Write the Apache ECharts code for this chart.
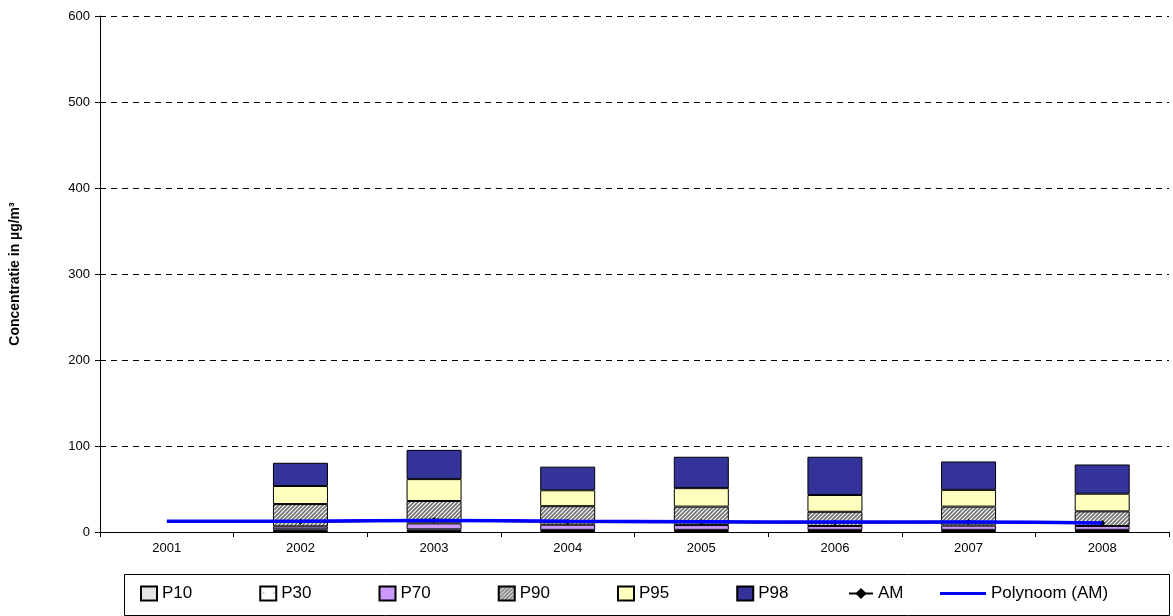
<!DOCTYPE html>
<html>
<head>
<meta charset="utf-8">
<title>Concentratie percentielen</title>
<script src="https://cdn.jsdelivr.net/npm/echarts@6/dist/echarts.min.js"></script>
<style>
  html, body { margin: 0; padding: 0; background: #fff; }
  #chart { width: 1173px; height: 616px; }
</style>
</head>
<body>
<div id="chart"></div>
<script>
const years = ['2001', '2002', '2003', '2004', '2005', '2006', '2007', '2008']

// percentielen (waarde van de bovenkant van elk segment)
const p10 = [null, 1, 1, 1, 1, 1, 1, 1]
const p30 = [null, 3, 3, 2.5, 2.5, 2.5, 2.5, 2.5]
const p70 = [null, 6.5, 10, 8.5, 8, 7, 7.5, 7]
const p90 = [null, 32.5, 36, 30, 29.5, 23.5, 29.5, 24]
const p95 = [null, 53.5, 61.5, 48.5, 51, 43, 49, 44.5]
const p98 = [null, 80.5, 95.5, 76, 87.5, 87.5, 82, 78.5]
const am = [null, 12, 14, 12, 11.5, 11, 11.5, 10.5]
const polynoom = [12.5, 12.5, 13.5, 12.5, 12, 11.5, 11.5, 10.5]

const yTicks = [0, 100, 200, 300, 400, 500, 600]

const font = 'Liberation Sans, Arial, sans-serif'

// segmenthoogte = verschil met het vorige percentiel
const diff = (top, bottom) => top.map((v, i) => (v == null ? null : +(v - (bottom ? bottom[i] : 0)).toFixed(2)))

const makeHatch = () => {
  const c = document.createElement('canvas')
  c.width = 8
  c.height = 8
  const ctx = c.getContext('2d')
  ctx.fillStyle = '#ffffff'
  ctx.fillRect(0, 0, 8, 8)
  ctx.strokeStyle = '#707070'
  ctx.lineWidth = 1.6
  for (let k = -8; k <= 16; k += 4) {
    ctx.beginPath()
    ctx.moveTo(k - 2, 10)
    ctx.lineTo(k + 10, -2)
    ctx.stroke()
  }
  return c
}

const makeDots = () => {
  const c = document.createElement('canvas')
  c.width = 10
  c.height = 10
  const ctx = c.getContext('2d')
  ctx.fillStyle = '#ffffff'
  ctx.fillRect(0, 0, 10, 10)
  ctx.fillStyle = '#555555'
  ctx.fillRect(3, 6, 1, 1)
  return c
}

const barStyle = color => ({ color: color, borderColor: '#000', borderWidth: 1 })

const chart = echarts.init(document.getElementById('chart'), null, { renderer: 'canvas' })

const barSeries = [
  { name: 'P10', data: diff(p10), itemStyle: barStyle('#e3e3e3') },
  { name: 'P30', data: diff(p30, p10), itemStyle: barStyle({ image: makeDots(), repeat: 'repeat' }) },
  { name: 'P70', data: diff(p70, p30), itemStyle: barStyle('#cc99ff') },
  { name: 'P90', data: diff(p90, p70), itemStyle: barStyle({ image: makeHatch(), repeat: 'repeat' }) },
  { name: 'P95', data: diff(p95, p90), itemStyle: barStyle('#ffffc0') },
  { name: 'P98', data: diff(p98, p95), itemStyle: barStyle('#333399') }
].map(s => Object.assign({ type: 'bar', stack: 'p', barWidth: 55, z: 2 }, s))

const legendText = { color: '#000', fontSize: 17, fontFamily: font }

const option = {
  animation: false,
  backgroundColor: '#fff',
  textStyle: { fontFamily: font },
  grid: { left: 99, right: 4, top: 16, bottom: 84 },
  xAxis: {
    type: 'category',
    data: years,
    axisLine: { lineStyle: { color: '#000', width: 1 } },
    axisTick: { show: true, length: 5, lineStyle: { color: '#000' } },
    axisLabel: { color: '#000', fontSize: 13, margin: 10, fontFamily: font }
  },
  yAxis: {
    type: 'value',
    min: yTicks[0],
    max: yTicks[yTicks.length - 1],
    interval: 100,
    name: 'Concentratie in µg/m³',
    nameLocation: 'middle',
    nameRotate: 90,
    nameGap: 78,
    nameTextStyle: { color: '#000', fontSize: 14, fontWeight: 'bold', fontFamily: font },
    axisLine: { show: true, lineStyle: { color: '#000', width: 1 } },
    axisTick: { show: true, length: 5, lineStyle: { color: '#000' } },
    axisLabel: { color: '#000', fontSize: 13, margin: 10, fontFamily: font },
    splitLine: { show: true, lineStyle: { color: '#000', width: 1, type: [6, 5] } }
  },
  legend: [
    {
      data: ['P10', 'P30', 'P70', 'P90', 'P95', 'P98'],
      left: 140,
      top: 585,
      padding: 0,
      icon: 'rect',
      itemWidth: 16,
      itemHeight: 14,
      itemGap: 67,
      textStyle: legendText
    },
    {
      data: ['AM'],
      left: 848,
      top: 585,
      padding: 0,
      itemWidth: 24,
      itemHeight: 14,
      textStyle: legendText
    },
    {
      data: [{ name: 'Polynoom (AM)', icon: 'rect', itemStyle: { color: '#0000ff', borderWidth: 0 } }],
      left: 940,
      top: 585,
      padding: 0,
      itemWidth: 46,
      itemHeight: 3,
      textStyle: legendText
    }
  ],
  graphic: [
    {
      type: 'rect',
      left: 122,
      top: 572,
      shape: { width: 1045, height: 41 },
      style: { fill: 'none', stroke: '#000', lineWidth: 1 },
      silent: true
    }
  ],
  series: barSeries.concat([
    {
      name: 'AM',
      type: 'line',
      data: am,
      z: 3,
      symbol: 'diamond',
      symbolSize: 6,
      itemStyle: { color: '#000' },
      lineStyle: { color: '#000', width: 2.5 }
    },
    {
      name: 'Polynoom (AM)',
      type: 'line',
      data: polynoom,
      z: 4,
      smooth: true,
      symbol: 'none',
      itemStyle: { color: '#0000ff' },
      lineStyle: { color: '#0000ff', width: 3.5 }
    }
  ])
}

chart.setOption(option)

window.addEventListener('resize', () => {
  chart && chart.resize()
})
</script>
</body>
</html>
